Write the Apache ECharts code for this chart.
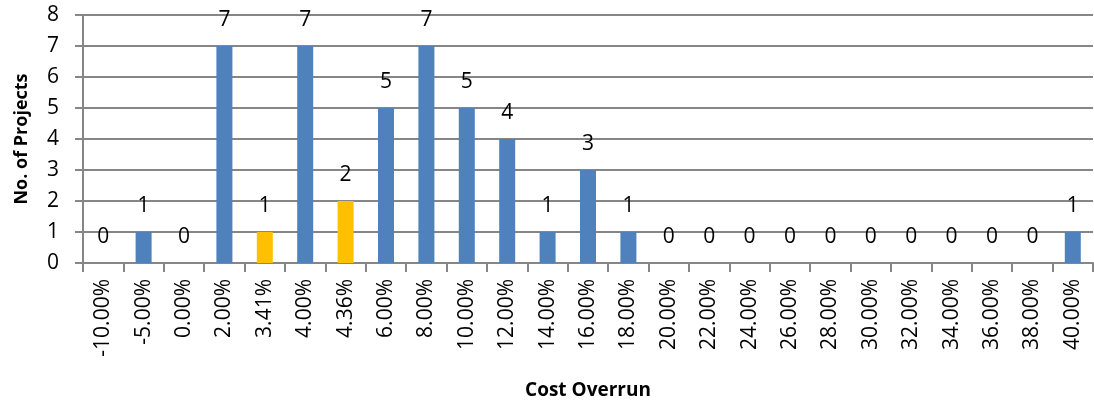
<!DOCTYPE html>
<html>
<head>
<meta charset="utf-8">
<script src="https://cdn.jsdelivr.net/npm/echarts@6/dist/echarts.min.js"></script>
<style>
html, body { margin: 0; padding: 0; background: #fff; }
#chart { width: 1094px; height: 407px; }
</style>
</head>
<body>
<div id="chart"></div>
<script>
var categories = ['-10.00%', '-5.00%', '0.00%', '2.00%', '3.41%', '4.00%', '4.36%', '6.00%', '8.00%',
    '10.00%', '12.00%', '14.00%', '16.00%', '18.00%', '20.00%', '22.00%', '24.00%', '26.00%',
    '28.00%', '30.00%', '32.00%', '34.00%', '36.00%', '38.00%', '40.00%']
var projectCounts = [0, 1, 0, 7, 1, 7, 2, 5, 7, 5, 4, 1, 3, 1, 0, 0, 0, 0, 0, 0, 0, 0, 0, 0, 1]
// categories drawn in yellow
var highlighted = ['3.41%', '4.36%']
var yTicks = [0, 8, 1]  // min, max, interval

var fontName = '"Open Sans", "Liberation Sans", sans-serif'
var myChart = echarts.init(document.getElementById('chart'))
var option = {
    animation: false,
    grid: { left: 83, right: 1, top: 15, bottom: 144, containLabel: false, outerBoundsMode: 'none' },
    xAxis: {
        type: 'category',
        data: categories,
        name: 'Cost Overrun',
        nameLocation: 'middle',
        nameGap: 118,
        nameTextStyle: { fontFamily: fontName, fontWeight: 'bold', fontSize: 19, color: '#000' },
        axisLine: { lineStyle: { color: '#868686', width: 2 } },
        axisTick: { show: true, length: 9, lineStyle: { color: '#868686', width: 2 } },
        axisLabel: { rotate: 90, fontFamily: fontName, fontSize: 21, color: '#000', margin: 16, interval: 0 }
    },
    yAxis: {
        type: 'value',
        min: yTicks[0],
        max: yTicks[1],
        interval: yTicks[2],
        name: 'No. of Projects',
        nameLocation: 'middle',
        nameGap: 52,
        nameTextStyle: { fontFamily: fontName, fontWeight: 'bold', fontSize: 18, color: '#000' },
        axisLine: { show: true, lineStyle: { color: '#868686', width: 2 } },
        axisTick: { show: true, length: 8, lineStyle: { color: '#868686', width: 2 } },
        splitLine: { lineStyle: { color: '#868686', width: 2 } },
        axisLabel: { fontFamily: fontName, fontSize: 21, color: '#000', margin: 24 }
    },
    series: [{
        type: 'bar',
        barWidth: 16,
        data: projectCounts.map(function(v, i) {
            return {
                value: v,
                itemStyle: { color: highlighted.indexOf(categories[i]) >= 0 ? '#FFC000' : '#4F81BD' }
            }
        }),
        label: {
            show: true,
            position: 'top',
            distance: 15,
            fontFamily: fontName,
            fontSize: 21,
            color: '#000'
        }
    }]
}
myChart.setOption(option)
</script>
</body>
</html>
